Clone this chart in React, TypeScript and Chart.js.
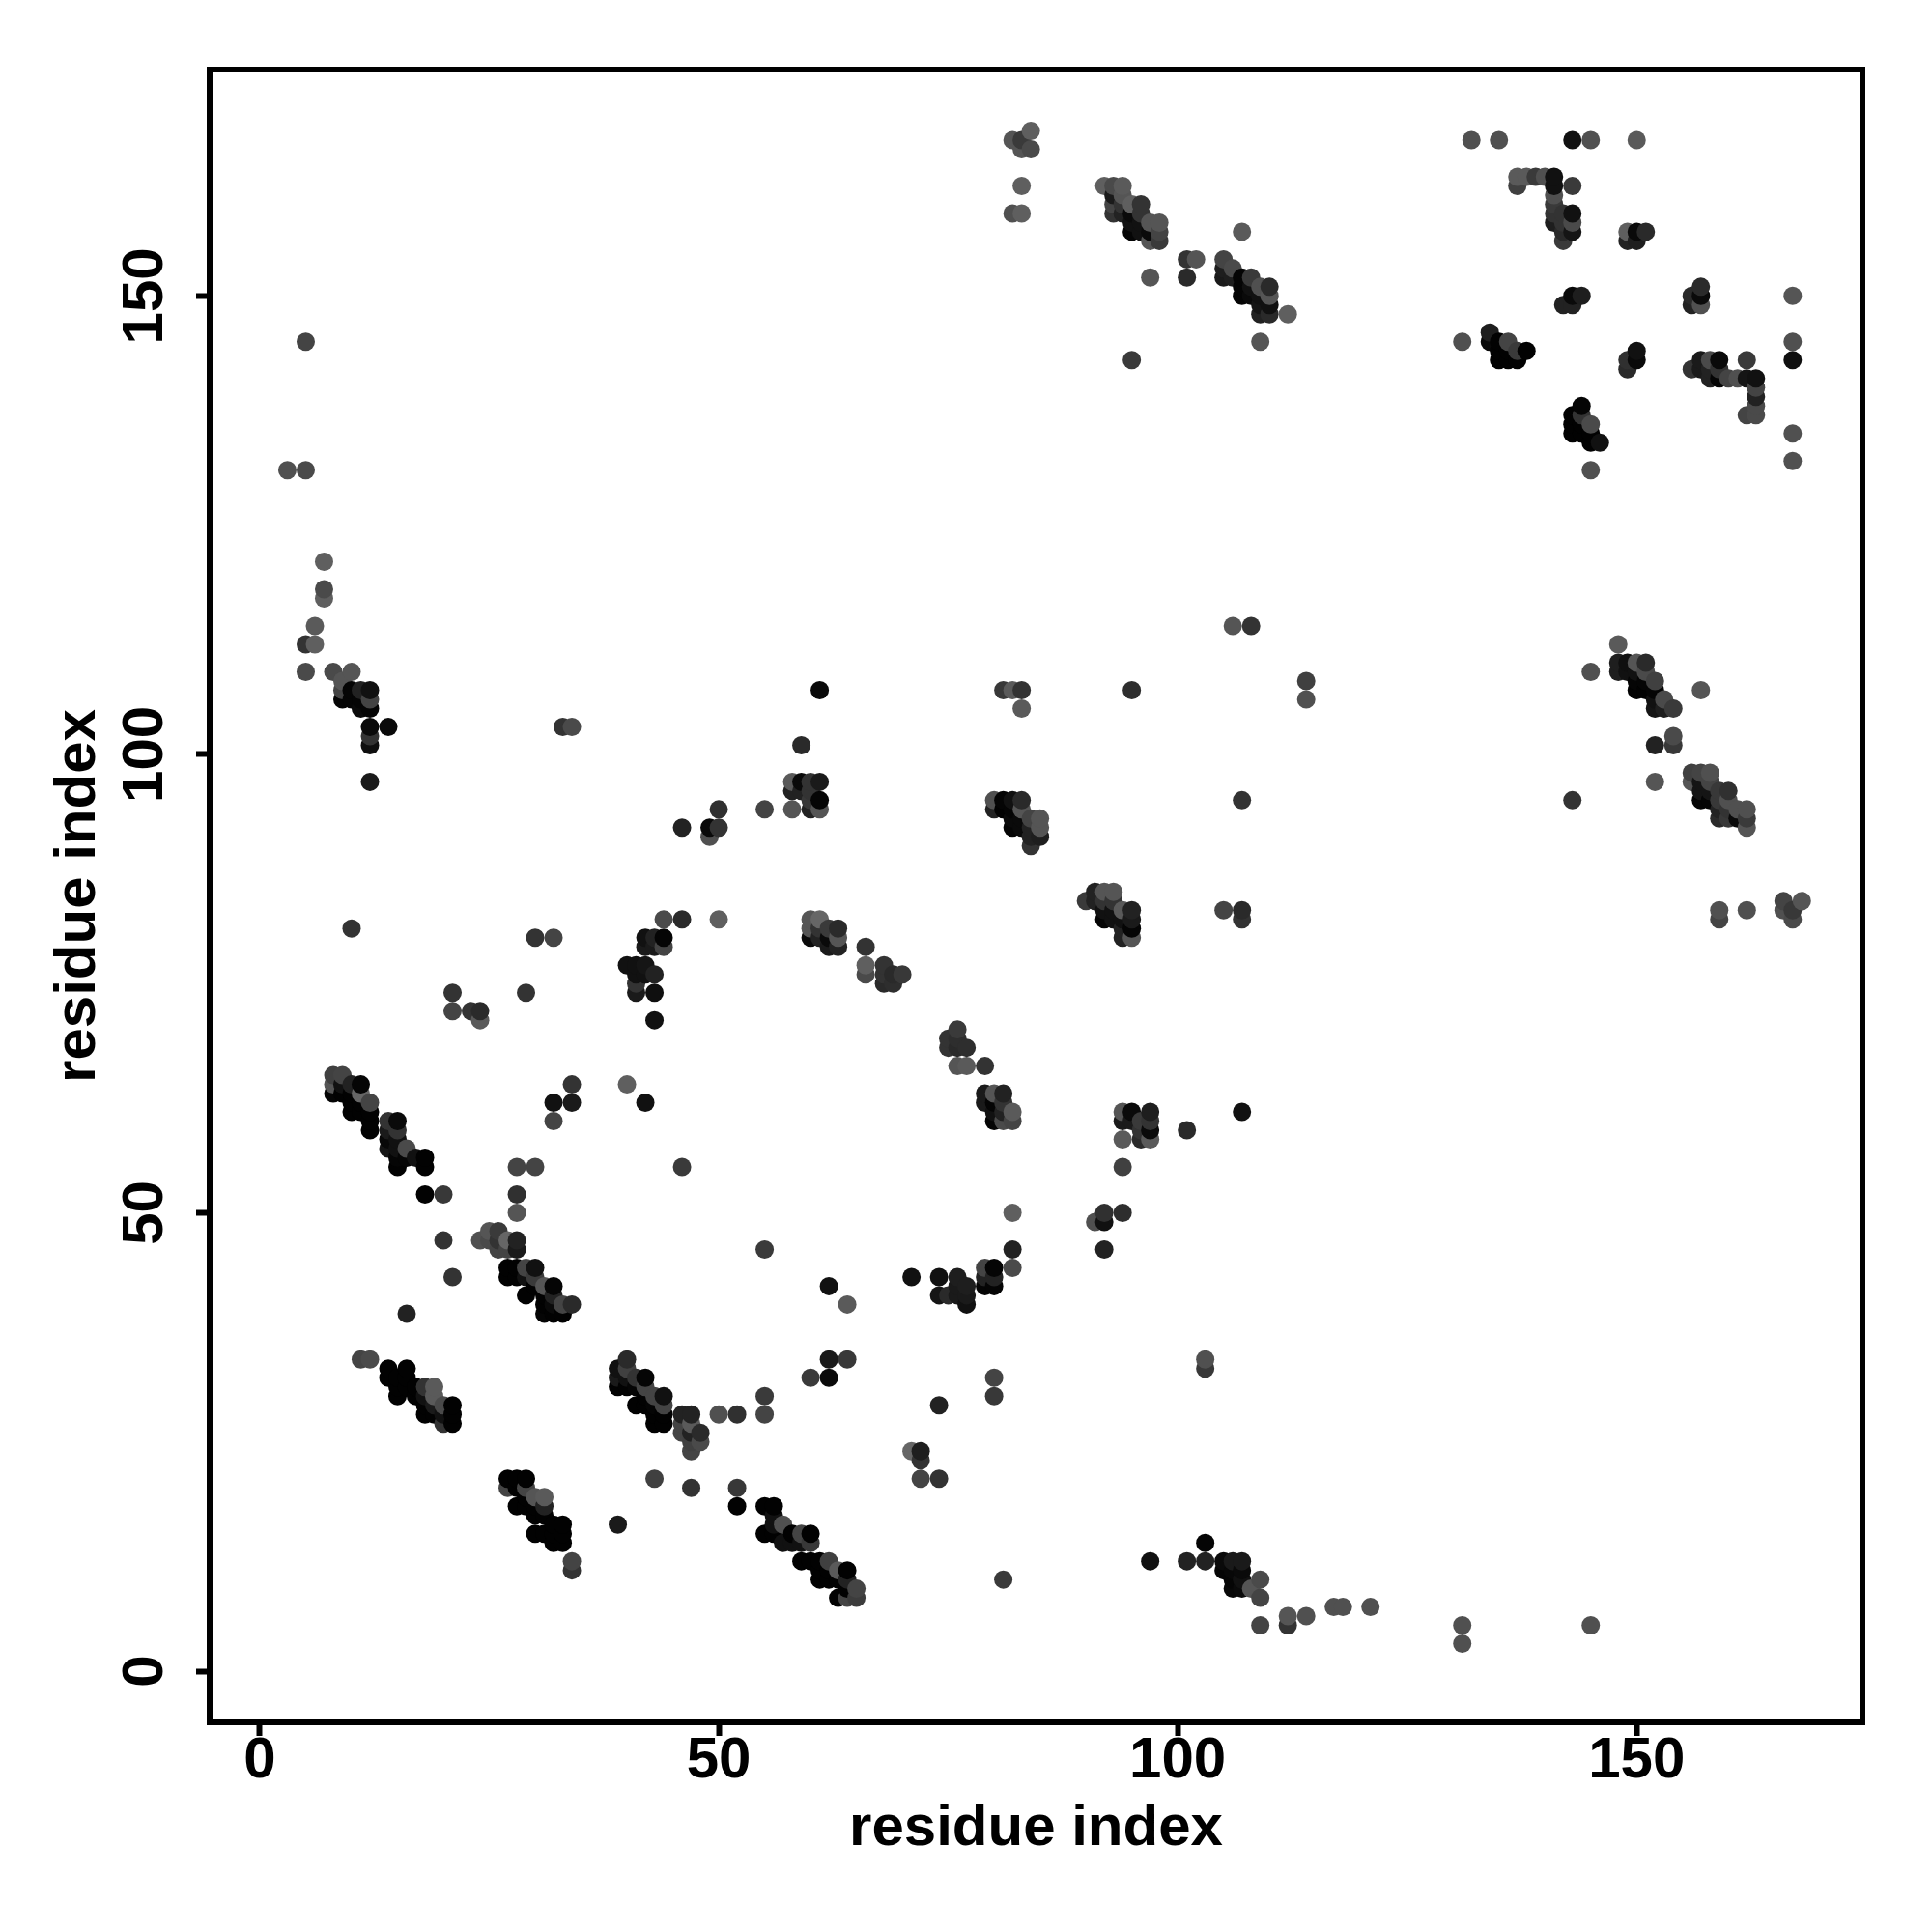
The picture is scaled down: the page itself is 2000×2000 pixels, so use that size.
import React, { useEffect, useRef } from "react";
import { Chart, registerables } from "chart.js";

Chart.register(...registerables);

type Contact = [number, number, number];

const xTickValues = [0, 50, 100, 150];
const yTickValues = [0, 50, 100, 150];
const xAxisTitle = "residue index";
const yAxisTitle = "residue index";

// each row: residue i, residue j, grey level of the contact
const lowerLeftSheet: Contact[] = [
  [8,65,0x40],[9,65,0x44],[8,64,0x55],[8,63,0x05],[9,64,0x11],[10,64,0x22],[11,64,0x05],[9,63,0x02],[10,63,0x02],[11,63,0x66],[12,62,0x44],
  [10,61,0x02],[10,62,0x02],[11,62,0x02],[11,61,0x02],[12,61,0x02],[12,60,0x02],[12,59,0x02],
  [14,60,0x33],[15,60,0x0a],[14,59,0x1a],[15,59,0x33],[14,58,0x08],[14,57,0x15],[15,58,0x11],[16,57,0x4a],[15,57,0x11],[15,55,0x02],[15,56,0x05],[16,56,0x05],[17,56,0x11],[18,56,0x02],[18,55,0x02],
];
const leftScatter: Contact[] = [
  [18,52,0x02],[20,52,0x38],[28,55,0x44],[30,55,0x44],[28,52,0x30],[28,50,0x55],[20,47,0x33],[21,43,0x33],[16,39,0x22],
  [34,64,0x33],[32,62,0x11],[34,62,0x1a],[32,60,0x44],[40,64,0x5f],[42,62,0x11],[33,103,0x33],[34,103,0x4a],
  [3,131,0x50],[5,131,0x4a],[5,145,0x44],[10,81,0x33],[21,74,0x33],[21,72,0x44],[23,72,0x33],[24,72,0x2a],[24,71,0x5a],[29,74,0x33],[30,80,0x33],[32,80,0x44],
];
const middleSheet: Contact[] = [
  [24,47,0x50],[25,48,0x55],[26,48,0x3a],[25,47,0x4a],[26,47,0x33],[27,47,0x66],[28,47,0x22],[26,46,0x44],[27,46,0x44],[28,46,0x1a],
  [27,44,0x02],[27,43,0x02],[28,44,0x02],[29,44,0x44],[30,44,0x11],[28,43,0x02],[29,43,0x11],[30,43,0x3a],[31,42,0x55],[32,42,0x05],[29,41,0x02],[30,42,0x02],[31,41,0x02],[32,41,0x22],
  [31,39,0x05],[31,40,0x02],[32,39,0x02],[32,40,0x0a],[33,39,0x02],[33,40,0x44],[34,40,0x2a],
];
const bottomLeftSheet: Contact[] = [
  [11,34,0x44],[12,34,0x4a],[14,33,0x02],[16,33,0x02],[14,32,0x02],[15,32,0x02],[16,32,0x02],[15,30,0x02],[15,31,0x02],[16,31,0x02],[17,30,0x02],[18,31,0x33],[19,31,0x5a],[17,31,0x02],[19,30,0x5a],[18,30,0x11],
  [18,28,0x02],[18,29,0x02],[19,29,0x1a],[20,29,0x4a],[21,29,0x02],[21,28,0x02],[21,27,0x02],[20,27,0x33],[19,28,0x02],[20,28,0x11],
];
const lowSheetA: Contact[] = [
  [27,21,0x02],[28,21,0x02],[29,21,0x02],[27,20,0x44],[28,20,0x02],[29,20,0x44],[30,19,0x55],[31,19,0x5a],[28,18,0x02],[29,19,0x02],[29,18,0x02],[30,18,0x02],[31,18,0x22],[30,17,0x02],[31,17,0x02],
  [32,16,0x02],[33,16,0x02],[30,15,0x02],[31,15,0x02],[32,14,0x02],[33,14,0x02],[32,15,0x02],[33,15,0x02],[34,12,0x44],[34,11,0x33],
];
const lowSheetB: Contact[] = [
  [40,34,0x2a],[39,33,0x11],[40,33,0x40],[39,32,0x1a],[39,31,0x02],[40,32,0x11],[40,31,0x02],[41,32,0x33],[42,32,0x05],[41,31,0x05],[42,31,0x44],[43,30,0x44],[44,30,0x11],[41,29,0x02],[42,29,0x02],[42,30,0x02],[43,29,0x05],[44,29,0x44],[43,28,0x02],[43,27,0x02],[44,27,0x02],[44,28,0x02],
  [46,28,0x22],[47,28,0x22],[50,28,0x50],[52,28,0x30],[46,27,0x44],[47,27,0x5a],[46,26,0x44],[47,26,0x22],[48,26,0x2a],[47,25,0x40],[48,25,0x4a],[47,24,0x44],
  [43,21,0x40],[47,20,0x33],[52,20,0x38],[52,18,0x02],[39,16,0x1a],
];
const lowSheetC: Contact[] = [
  [62,34,0x1a],[64,34,0x38],[60,32,0x3a],[62,32,0x0a],[55,30,0x3a],[55,28,0x44],
  [55,18,0x02],[56,18,0x02],[55,15,0x02],[56,17,0x11],[57,16,0x50],[56,16,0x11],[56,15,0x02],[57,14,0x11],[58,15,0x02],[59,15,0x44],[60,15,0x02],[58,14,0x11],[59,14,0x11],[60,14,0x38],
  [59,12,0x02],[60,12,0x02],[61,12,0x02],[62,12,0x40],[61,11,0x02],[61,10,0x02],[62,10,0x02],[62,11,0x02],[63,11,0x5a],[64,11,0x02],[63,10,0x02],[64,10,0x22],[65,9,0x44],[64,9,0x02],[63,8,0x02],[64,8,0x44],[65,8,0x3c],
  [80,32,0x44],[80,30,0x38],[74,29,0x22],[71,24,0x66],[72,24,0x1e],[72,23,0x33],[72,21,0x44],[74,21,0x33],[81,10,0x3a],
];
const ringUpper: Contact[] = [
  [44,82,0x4a],[46,82,0x2a],[50,82,0x5f],[42,80,0x11],[43,80,0x22],[44,80,0x05],[42,79,0x1a],[43,79,0x1a],[44,79,0x44],
  [40,77,0x11],[41,77,0x11],[42,77,0x15],[41,76,0x11],[42,76,0x11],[43,76,0x22],[41,75,0x33],[41,74,0x1a],[43,74,0x0f],[43,71,0x11],
  [46,55,0x3a],[55,46,0x3a],[62,42,0x11],[64,40,0x5a],
  [60,82,0x55],[61,82,0x66],[60,81,0x55],[61,81,0x33],[62,81,0x3a],[63,81,0x2a],[60,80,0x0a],[61,80,0x22],[62,80,0x0a],[63,80,0x55],[62,79,0x1a],[63,79,0x22],
  [66,79,0x33],[66,77,0x5f],[66,76,0x4a],[68,77,0x33],[69,76,0x2a],[68,76,0x33],[70,76,0x38],[68,75,0x2a],[69,75,0x2e],
];
const ringRight: Contact[] = [
  [76,70,0x3a],[75,69,0x33],[75,68,0x33],[76,68,0x2a],[77,68,0x2e],[76,69,0x2e],[76,66,0x55],[77,66,0x5a],[79,66,0x33],
  [79,63,0x1a],[80,63,0x55],[81,63,0x22],[79,62,0x1a],[80,62,0x05],[81,62,0x33],[80,61,0x11],[81,61,0x22],[82,61,0x5a],[80,60,0x05],[81,60,0x4a],[82,60,0x44],
  [82,50,0x5f],[82,46,0x22],[82,44,0x4a],[79,44,0x44],[80,44,0x05],[79,43,0x22],[80,43,0x22],[79,42,0x05],[80,42,0x05],
  [71,43,0x11],[74,43,0x11],[76,43,0x1e],[74,41,0x15],[75,41,0x2a],[76,41,0x1a],[77,42,0x1e],[77,41,0x1a],[76,42,0x1a],[77,40,0x11],
];
const midRightCluster: Contact[] = [
  [94,61,0x55],[95,61,0x0a],[97,61,0x1e],[94,60,0x1a],[95,60,0x1a],[96,60,0x3a],[97,60,0x33],[97,59,0x0a],[96,59,0x33],[94,58,0x5a],[96,58,0x2a],[97,58,0x5a],[101,59,0x2a],[107,61,0x11],[94,55,0x40],
  [92,50,0x30],[94,50,0x2e],[91,49,0x50],[92,49,0x11],[92,46,0x22],
];
const upperLeftArm: Contact[] = [
  [7,121,0x5f],[7,118,0x4a],[7,117,0x5f],[6,114,0x5a],[5,112,0x33],[6,112,0x5f],[5,109,0x4a],[8,109,0x4a],[10,109,0x55],[9,108,0x55],[9,107,0x44],[9,106,0x05],[10,107,0x05],[11,107,0x22],[12,107,0x11],[10,106,0x05],[11,106,0x05],[12,106,0x44],[11,105,0x0a],[12,105,0x05],
  [12,103,0x0a],[14,103,0x0a],[12,102,0x33],[12,101,0x0f],[12,97,0x1a],
];
const centreTop: Contact[] = [
  [61,107,0x0a],[59,101,0x2a],[58,97,0x5a],[59,97,0x0a],[60,97,0x33],[61,97,0x1a],[58,96,0x22],[59,96,0x22],[60,96,0x33],[61,95,0x05],[60,95,0x38],[60,94,0x22],[61,94,0x55],[58,94,0x55],[55,94,0x44],[50,94,0x30],[50,92,0x33],[49,92,0x0a],[49,91,0x50],[46,92,0x22],
  [81,107,0x38],[82,107,0x5a],[83,107,0x33],[83,105,0x5a],
  [80,95,0x50],[81,95,0x05],[82,95,0x11],[83,95,0x2a],[80,94,0x22],[81,94,0x02],[82,94,0x05],[83,94,0x55],[84,93,0x44],[85,93,0x55],[82,93,0x0a],[83,93,0x0a],[82,92,0x05],[83,92,0x0a],[85,92,0x55],[84,92,0x22],[84,91,0x22],[85,91,0x1e],[84,90,0x33],
];
const centreMid: Contact[] = [
  [90,84,0x3a],[91,85,0x22],[92,85,0x55],[93,85,0x55],[91,84,0x22],[92,84,0x33],[93,84,0x33],[92,82,0x05],[92,83,0x11],[93,83,0x11],[94,83,0x5a],[95,83,0x22],[93,82,0x11],[95,82,0x1a],[94,82,0x11],[95,81,0x05],[94,80,0x22],[95,80,0x55],[94,81,0x22],
];
const topCentreSheet: Contact[] = [
  [84,168,0x5f],[82,167,0x55],[83,167,0x3a],[83,166,0x55],[84,166,0x4a],[83,162,0x5f],[82,159,0x50],[83,159,0x5f],
  [92,162,0x5f],[93,162,0x4a],[94,162,0x5a],[93,161,0x1a],[94,161,0x55],[93,160,0x44],[94,160,0x33],[95,160,0x5f],[96,160,0x33],[93,159,0x33],[94,159,0x22],[95,159,0x0a],[96,159,0x33],[95,158,0x11],[96,158,0x11],[97,158,0x55],[98,158,0x55],[95,157,0x05],[96,157,0x11],[97,157,0x0a],[98,157,0x44],[97,156,0x55],[98,156,0x3a],
  [97,152,0x55],[101,154,0x33],[102,154,0x55],[101,152,0x2a],[95,143,0x3a],[107,157,0x5a],
  [105,154,0x44],[106,153,0x4a],[105,153,0x1e],[105,152,0x1a],[106,152,0x1e],[107,152,0x05],[108,152,0x3a],[107,151,0x05],[108,151,0x11],[109,151,0x50],[110,151,0x2a],[107,150,0x05],[108,150,0x0a],[109,150,0x11],[110,150,0x55],[109,149,0x15],[110,149,0x11],[109,148,0x22],[110,148,0x2a],[112,148,0x5f],[109,145,0x55],
];
const topRightSheet: Contact[] = [
  [132,167,0x50],[135,167,0x50],[143,167,0x11],[145,167,0x50],[150,167,0x5a],
  [137,163,0x5a],[138,163,0x5a],[139,163,0x3a],[140,163,0x50],[141,163,0x11],[137,162,0x40],[141,162,0x11],[143,162,0x3a],[141,161,0x50],[141,160,0x3a],[141,159,0x33],[141,158,0x1e],[142,159,0x33],[143,159,0x11],[143,158,0x4a],[142,158,0x33],[142,157,0x2a],[143,157,0x15],[142,156,0x3a],
  [149,157,0x5f],[150,157,0x0a],[151,157,0x2a],[149,156,0x22],[150,156,0x1e],
  [143,150,0x0a],[144,150,0x1e],[142,149,0x22],[143,149,0x22],
  [134,146,0x1e],[134,145,0x0a],[135,145,0x02],[136,145,0x44],[135,144,0x02],[136,144,0x02],[137,144,0x3a],[138,144,0x02],[135,143,0x02],[136,143,0x02],[137,143,0x02],[131,145,0x50],
  [157,151,0x2a],[156,150,0x2a],[157,150,0x0a],[156,149,0x22],[157,149,0x50],[150,144,0x11],[149,143,0x30],[150,143,0x0a],[149,142,0x2a],
  [144,138,0x05],[143,137,0x02],[144,137,0x33],[143,136,0x02],[144,136,0x02],[145,136,0x4a],[143,135,0x02],[144,135,0x02],[145,135,0x02],[145,134,0x02],[146,134,0x11],[145,131,0x50],
];
const farRightColumn: Contact[] = [
  [167,150,0x55],[167,145,0x50],[167,143,0x0f],[167,135,0x50],[167,132,0x50],
  [156,142,0x33],[157,143,0x1a],[158,143,0x4a],[159,143,0x0a],[162,143,0x3a],[157,142,0x1a],[158,142,0x22],[159,142,0x33],[158,141,0x22],[159,141,0x05],[160,141,0x44],[161,141,0x50],[162,141,0x15],[163,141,0x11],[163,140,0x44],[163,139,0x22],[163,138,0x4a],[162,137,0x44],[163,137,0x4a],
];
const rightMidSheet: Contact[] = [
  [148,112,0x5a],[145,109,0x50],[148,110,0x1e],[149,110,0x0f],[150,110,0x55],[151,110,0x2a],[148,109,0x1e],[149,109,0x11],[150,109,0x11],[151,109,0x4a],[152,108,0x40],[150,108,0x05],[151,108,0x05],[150,107,0x02],[151,107,0x02],[152,107,0x05],[157,107,0x55],[153,106,0x4a],[152,106,0x11],[152,105,0x15],[153,105,0x1e],[154,105,0x3a],
  [154,102,0x4a],[154,101,0x38],[152,101,0x22],[152,97,0x55],
  [156,98,0x40],[157,98,0x44],[158,98,0x50],[156,97,0x55],[157,97,0x15],[158,97,0x44],[157,96,0x15],[158,96,0x15],[159,96,0x38],[160,96,0x30],[157,95,0x05],[158,95,0x05],[159,95,0x38],[160,95,0x50],[159,94,0x22],[160,94,0x33],[161,94,0x50],[162,94,0x50],[159,93,0x2a],[160,93,0x38],[161,93,0x0a],[162,93,0x3a],[162,92,0x55],
  [159,83,0x50],[159,82,0x44],[162,83,0x50],[166,84,0x44],[168,84,0x55],[166,83,0x50],[167,83,0x38],[167,82,0x4a],
];
const isolatedContacts: Contact[] = [
  [107,95,0x33],[143,95,0x33],[95,107,0x2e],[114,108,0x40],[114,106,0x50],[106,114,0x55],[108,114,0x33],[105,83,0x44],[107,83,0x2a],[107,82,0x33],[103,34,0x50],[103,33,0x38],
];
const bottomTail: Contact[] = [
  [97,12,0x11],[101,12,0x22],[103,12,0x22],[103,14,0x05],[105,12,0x0a],[107,12,0x1a],[106,12,0x1a],[105,11,0x05],[106,11,0x08],[107,11,0x0a],[106,10,0x05],[107,10,0x11],[109,10,0x4a],[106,9,0x08],[107,9,0x0a],[108,9,0x55],[109,8,0x44],[109,5,0x44],
  [112,6,0x55],[112,5,0x33],[114,6,0x50],[117,7,0x50],[118,7,0x50],[121,7,0x50],[131,5,0x50],[131,3,0x50],[145,5,0x50],
];

const allContacts: Contact[] = [
  ...lowerLeftSheet, ...leftScatter, ...middleSheet, ...bottomLeftSheet, ...lowSheetA, ...lowSheetB, ...lowSheetC,
  ...ringUpper, ...ringRight, ...midRightCluster, ...upperLeftArm, ...centreTop, ...centreMid, ...topCentreSheet,
  ...topRightSheet, ...farRightColumn, ...rightMidSheet, ...isolatedContacts, ...bottomTail,
];

const grey = (v: number) => `rgb(${v},${v},${v})`;

const boxPlugin = {
  id: "box",
  afterDatasetsDraw(chart: any) {
    const { left, top, width, height } = chart.chartArea;
    const ctx = chart.ctx;
    ctx.save();
    ctx.strokeStyle = "#000";
    ctx.lineWidth = 6;
    ctx.strokeRect(left, top, width, height);
    ctx.restore();
  },
};

export default function App() {
  const ref = useRef<HTMLCanvasElement | null>(null);
  useEffect(() => {
    if (!ref.current) return;
    const ordered = [...allContacts].sort((a, b) => a[0] - b[0] || a[1] - b[1]);
    const font = { family: "'Liberation Sans', Arial, sans-serif", size: 60, weight: "bold" as const };
    const chart = new Chart(ref.current, {
      type: "scatter",
      data: {
        datasets: [
          {
            data: ordered.map((c) => ({ x: c[0], y: c[1] })),
            backgroundColor: ordered.map((c) => grey(c[2])),
            pointBackgroundColor: ordered.map((c) => grey(c[2])),
            pointBorderWidth: 0,
            pointRadius: 9.5,
            pointHoverRadius: 9.5,
          },
        ],
      },
      options: {
        animation: false,
        responsive: false,
        devicePixelRatio: 1,
        layout: { padding: { top: 72, right: 72, left: 0, bottom: 0 } },
        plugins: { legend: { display: false }, tooltip: { enabled: false } },
        scales: {
          x: {
            type: "linear",
            min: -5.47,
            max: 174.6,
            afterBuildTicks: (s: any) => { s.ticks = xTickValues.map((value) => ({ value })); },
            afterFit: (s: any) => { s.height = 217; },
            border: { display: false },
            grid: { drawOnChartArea: false, drawTicks: true, tickLength: 14, tickWidth: 6, tickColor: "#000" },
            ticks: { color: "#000", font, padding: -10, maxRotation: 0, minRotation: 0, autoSkip: false },
            title: { display: true, text: xAxisTitle, color: "#000", font, padding: { top: 0, bottom: 71 } },
          },
          y: {
            type: "linear",
            min: -5.58,
            max: 174.69,
            afterBuildTicks: (s: any) => { s.ticks = yTickValues.map((value) => ({ value })); },
            afterFit: (s: any) => { s.width = 217; },
            border: { display: false },
            grid: { drawOnChartArea: false, drawTicks: true, tickLength: 14, tickWidth: 6, tickColor: "#000" },
            ticks: { color: "#000", font, padding: 1, crossAlign: "center", maxRotation: 90, minRotation: 90, autoSkip: false },
            title: { display: true, text: yAxisTitle, color: "#000", font, padding: { top: 45, bottom: 0 } },
          },
        },
      },
      plugins: [boxPlugin],
    } as any);
    return () => chart.destroy();
  }, []);
  return (
    <canvas
      ref={ref}
      width={2000}
      height={2000}
      style={{ position: "absolute", left: 0, top: 0, width: 2000, height: 2000, background: "#fff" }}
    />
  );
}
